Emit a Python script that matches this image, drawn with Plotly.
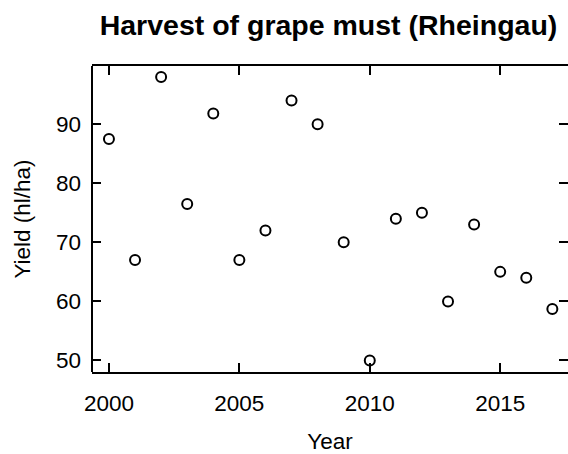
import plotly.graph_objects as go

# Grape must harvest in the Rheingau, yield per hectare
years = [2000, 2001, 2002, 2003, 2004, 2005, 2006, 2007, 2008,
         2009, 2010, 2011, 2012, 2013, 2014, 2015, 2016, 2017]
yield_hl_ha = [87.5, 67, 98, 76.5, 91.8, 67, 72, 94, 90,
               70, 50, 74, 75, 60, 73, 65, 64, 58.7]

x_ticks = [2000, 2005, 2010, 2015]
y_ticks = [50, 60, 70, 80, 90]

FONT = "Liberation Sans, Arial, Helvetica, sans-serif"

fig = go.Figure(
    go.Scatter(
        x=years,
        y=yield_hl_ha,
        mode="markers",
        marker=dict(symbol="circle-open", size=10, color="black",
                    line=dict(width=2, color="black")),
        showlegend=False,
        cliponaxis=False,
    )
)

axis_common = dict(
    showgrid=False,
    zeroline=False,
    ticks="inside",
    ticklen=9,
    tickwidth=2,
    tickcolor="black",
    mirror="ticks",
    tickfont=dict(family=FONT, size=22.5, color="black"),
)

fig.update_xaxes(
    range=[1999.35, 2017.6],
    tickvals=x_ticks,
    ticktext=[str(v) for v in x_ticks],
    showline=True,
    linewidth=2,
    linecolor="black",
    ticklabelstandoff=10,
    title=dict(text="Year", font=dict(family=FONT, size=22.5, color="black"),
               standoff=22),
    **axis_common,
)

fig.update_yaxes(
    range=[48.05, 99.85],
    tickvals=y_ticks,
    ticktext=[str(v) for v in y_ticks],
    showline=False,
    ticklabelstandoff=10,
    title=dict(text="Yield (hl/ha)", font=dict(family=FONT, size=22.5, color="black"),
               standoff=19),
    **axis_common,
)

# left side of the plot frame
fig.add_shape(type="line", xref="paper", yref="paper",
              x0=0, x1=0, y0=0, y1=1,
              line=dict(color="black", width=2))

fig.update_layout(
    width=568,
    height=454,
    margin=dict(l=92, r=0, t=66, b=82),
    paper_bgcolor="white",
    plot_bgcolor="white",
    title=dict(
        text="<b>Harvest of grape must (Rheingau)</b>",
        font=dict(family=FONT, size=28.5, color="black"),
        x=328.5 / 568, xanchor="center", xref="container",
        y=1 - 25 / 454, yanchor="middle", yref="container",
    ),
)

fig.write_html("out.html")
